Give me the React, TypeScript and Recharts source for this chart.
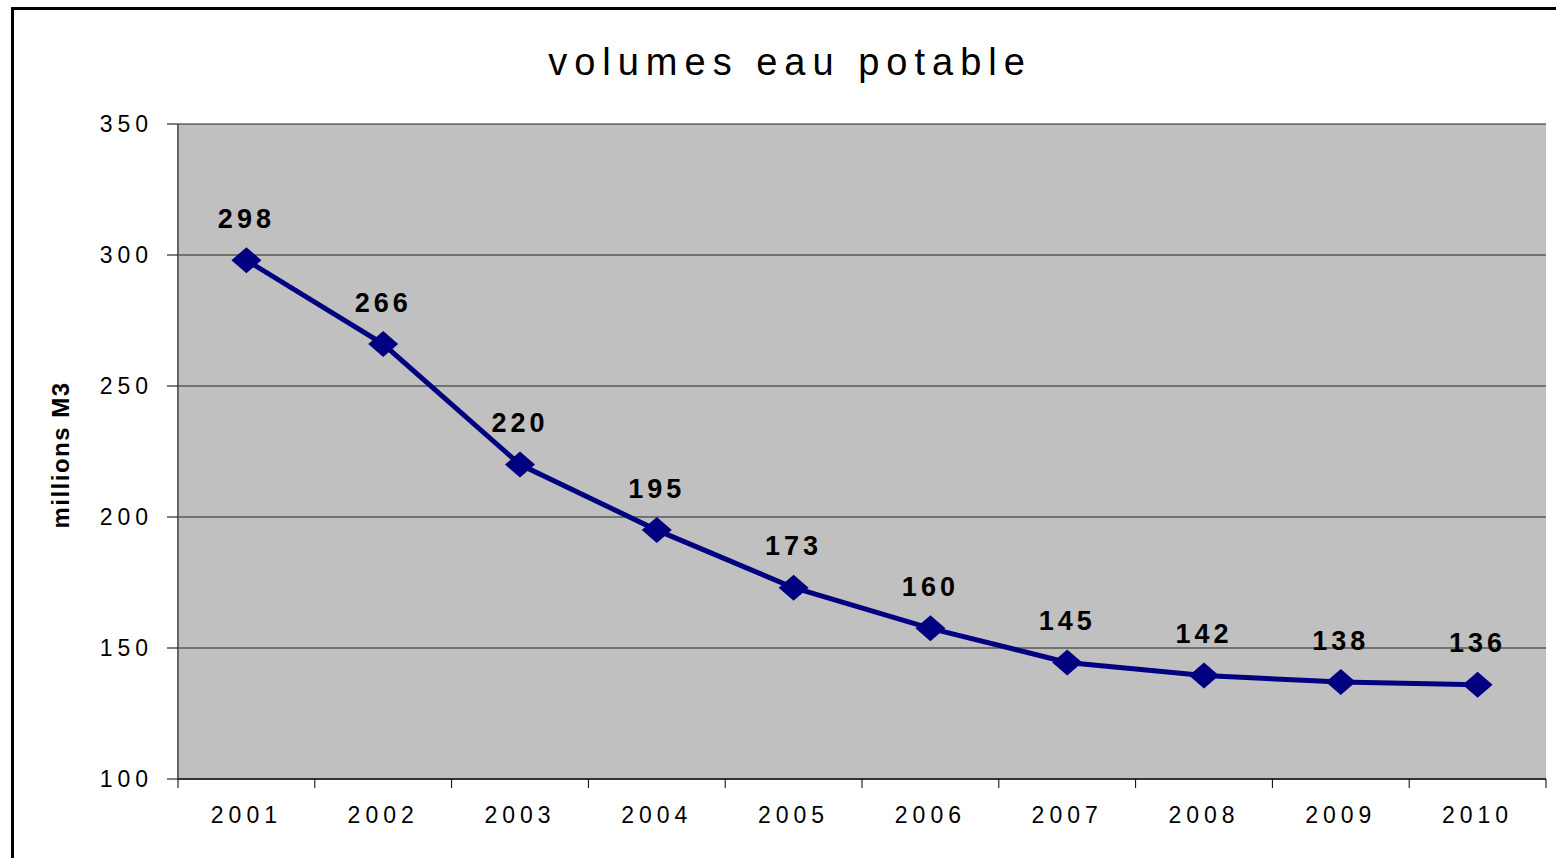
import React from 'react';
import {
  LineChart,
  Line,
  XAxis,
  YAxis,
  CartesianGrid,
  LabelList,
} from 'recharts';

// values; the printed labels differ slightly from the plotted points
const years = ['2001', '2002', '2003', '2004', '2005', '2006', '2007', '2008', '2009', '2010'];
const volumes = [298, 266, 220, 195, 173, 157.5, 144.5, 139.5, 137, 136];
const volumeLabels = ['298', '266', '220', '195', '173', '160', '145', '142', '138', '136'];
const yTicks = [100, 150, 200, 250, 300, 350];

const data = years.map((year, i) => ({ year, volume: volumes[i], label: volumeLabels[i] }));

const W = 1556;
const H = 858;
const PLOT_LEFT = 178;
const PLOT_RIGHT = 10;
const PLOT_W = W - PLOT_LEFT - PLOT_RIGHT;
const BAND = PLOT_W / years.length;
const FONT = '"Liberation Sans", Arial, sans-serif';

const Diamond = (props: any) => {
  const { cx, cy, index } = props;
  if (cx == null || cy == null) return null;
  return (
    <polygon
      key={`d-${index}`}
      points={`${cx},${cy - 13} ${cx + 15},${cy} ${cx},${cy + 13} ${cx - 15},${cy}`}
      fill="#000080"
    />
  );
};

const ValueLabel = (props: any) => {
  const { x, y, value } = props;
  return (
    <text
      x={x}
      y={y - 32.5}
      textAnchor="middle"
      fontFamily={FONT}
      fontSize={27}
      fontWeight="bold"
      letterSpacing={4}
      fill="#000"
    >
      {value}
    </text>
  );
};

const YearTick = (props: any) => {
  const { x, y, payload, index } = props;
  const axisY = y - 28;
  const last = index === years.length - 1;
  return (
    <g>
      <line x1={x - BAND / 2} x2={x - BAND / 2} y1={axisY} y2={axisY + 9} stroke="#000" strokeWidth={1} />
      {last && (
        <line x1={x + BAND / 2} x2={x + BAND / 2} y1={axisY} y2={axisY + 9} stroke="#000" strokeWidth={1} />
      )}
      <text
        x={x}
        y={y}
        dy="0.71em"
        textAnchor="middle"
        fontFamily={FONT}
        fontSize={23}
        letterSpacing={5}
        fill="#000"
      >
        {payload.value}
      </text>
    </g>
  );
};

export default function App() {
  return (
    <div
      style={{
        position: 'absolute',
        left: 0,
        top: 0,
        width: W,
        height: H,
        overflow: 'hidden',
        background: '#fff',
      }}
    >
      <div
        style={{
          position: 'absolute',
          left: 11,
          top: 7,
          width: 1700,
          height: 1000,
          border: '3px solid #000',
        }}
      />
      <div
        style={{
          position: 'absolute',
          left: 790,
          top: 43,
          transform: 'translateX(-50%)',
          fontFamily: FONT,
          fontSize: 38,
          lineHeight: '38px',
          letterSpacing: 7,
          whiteSpace: 'nowrap',
          color: '#000',
        }}
      >
        volumes eau potable
      </div>
      <div
        style={{
          position: 'absolute',
          left: 61,
          top: 455,
          transform: 'translate(-50%, -50%) rotate(-90deg)',
          fontFamily: FONT,
          fontSize: 24,
          fontWeight: 'bold',
          letterSpacing: 1.5,
          whiteSpace: 'nowrap',
          color: '#000',
        }}
      >
        millions M3
      </div>
      <div style={{ position: 'absolute', left: 0, top: 0 }}>
        <LineChart
          width={W}
          height={H}
          data={data}
          margin={{ top: 124, right: PLOT_RIGHT, bottom: 29, left: 0 }}
        >
          <CartesianGrid vertical={false} stroke="#222" fill="#C0C0C0" fillOpacity={1} />
          <XAxis
            dataKey="year"
            padding={{ left: BAND / 2, right: BAND / 2 }}
            height={50}
            tickLine={false}
            tickSize={8}
            tickMargin={20}
            axisLine={{ stroke: '#333', strokeWidth: 2 }}
            tick={<YearTick />}
            interval={0}
          />
          <YAxis
            width={PLOT_LEFT}
            domain={[100, 350]}
            ticks={yTicks}
            interval={0}
            tickSize={11}
            tickMargin={14}
            axisLine={{ stroke: '#666', strokeWidth: 2 }}
            tickLine={{ stroke: '#000' }}
            tick={{ fill: '#000', fontFamily: FONT, fontSize: 23, letterSpacing: 5 }}
          />
          <YAxis
            yAxisId="frame"
            orientation="right"
            width={0}
            domain={[100, 350]}
            tick={false}
            tickLine={false}
            axisLine={{ stroke: '#808080', strokeWidth: 3 }}
          />
          <Line
            type="linear"
            dataKey="volume"
            stroke="#000080"
            strokeWidth={5}
            dot={<Diamond />}
            activeDot={false}
            isAnimationActive={false}
          >
            <LabelList dataKey="label" content={<ValueLabel />} />
          </Line>
        </LineChart>
      </div>
    </div>
  );
}
